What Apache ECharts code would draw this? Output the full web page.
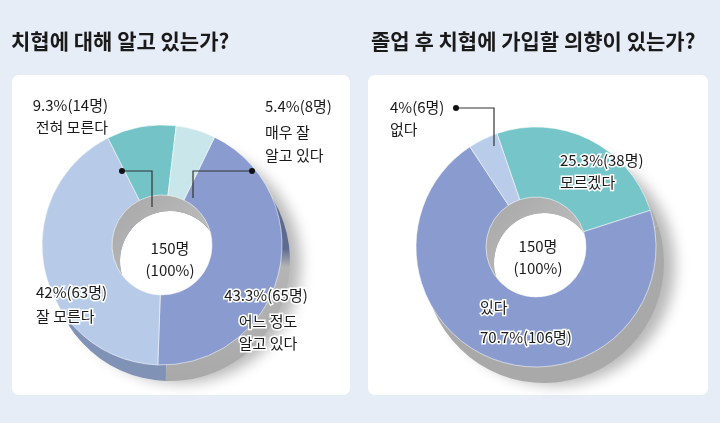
<!DOCTYPE html>
<html>
<head>
<meta charset="utf-8">
<script src="https://cdn.jsdelivr.net/npm/echarts@6/dist/echarts.min.js"></script>
<style>
  html, body { margin: 0; padding: 0; background: #e7edf7; }
  .panel { position: absolute; background: #fff; border-radius: 7px; top: 75px; height: 320px; }
  #main { position: absolute; left: 0; top: 0; width: 720px; height: 423px; }
</style>
</head>
<body>
<div class="panel" style="left:12px;width:338px"></div>
<div class="panel" style="left:368px;width:340px"></div>
<div id="main"></div>
<script>
// 왼쪽: 치협에 대해 알고 있는가?
const leftTitle = '치협에 대해 알고 있는가?'
const leftNames = ['어느 정도\n알고 있다', '잘 모른다', '전혀 모른다', '매우 잘\n알고 있다']
const leftCounts = [65, 63, 14, 8]
const leftPcts = ['43.3', '42', '9.3', '5.4']

// 오른쪽: 졸업 후 치협에 가입할 의향이 있는가?
const rightTitle = '졸업 후 치협에 가입할 의향이 있는가?'
const rightNames = ['모르겠다', '있다', '없다']
const rightCounts = [38, 106, 6]
const rightPcts = ['25.3', '70.7', '4']

const totalText = ['150명', '(100%)']

const FONT = '"Noto Sans CJK KR", "Noto Sans", sans-serif'
const leftColors = ['#8a9ccf', '#b7cbe9', '#73c3c7', '#c9e7ea']
const rightColors = ['#75c5c9', '#8a9ccf', '#b9cdeb']

const navyGray = new echarts.graphic.LinearGradient(0, 0, 0, 1, [
  { offset: 0, color: '#5d6a92' },
  { offset: 0.42, color: '#5d6a92' },
  { offset: 0.5, color: '#b5b5b5' },
  { offset: 1, color: '#a9a9a9' }
])
const leftSide = [navyGray, '#8192b7', '#8a8a8a', '#8a8a8a']
const rightSide = ['#acacac', '#a9a9a9', '#acacac']

function pieData (names, counts, colors) {
  return names.map((n, i) => ({ name: n, value: counts[i], itemStyle: { color: colors[i] } }))
}

// 도넛 한 개 = 그림자 + 옆면 + 안쪽 벽 + 윗면
function donut (center, startAngle, names, counts, topColors, sideColors) {
  const off = [center[0] + 8, center[1] + 16]
  const base = { type: 'pie', silent: true, label: { show: false }, labelLine: { show: false },
    emphasis: { disabled: true }, animation: false, startAngle: startAngle, clockwise: true }
  return [
    Object.assign({}, base, { center: off, radius: [0, 119], z: 0,
      data: [{ value: 1, itemStyle: { color: '#fff', shadowColor: 'rgba(0,0,0,0.28)',
        shadowBlur: 14, shadowOffsetX: 12, shadowOffsetY: 3 } }] }),
    Object.assign({}, base, { center: off, radius: [50, 120], z: 1,
      data: pieData(names, counts, sideColors) }),
    Object.assign({}, base, { center: off, radius: [50, 75], z: 2,
      data: [{ value: 1, itemStyle: { color: new echarts.graphic.LinearGradient(0, 0, 1, 1, [
        { offset: 0, color: '#a3a3a3' }, { offset: 1, color: '#d2d2d2' }]) } }] }),
    Object.assign({}, base, { center: center, radius: [50, 120], z: 3,
      itemStyle: { borderColor: 'rgba(255,255,255,0.55)', borderWidth: 1 },
      data: pieData(names, counts, topColors) })
  ]
}

function txt (text, x, y, align, halo) {
  return {
    type: 'text', z: 100, silent: true,
    style: {
      text: text, x: x, y: y, font: '15px ' + FONT, fill: '#1a1a1a',
      textAlign: align || 'left', textVerticalAlign: 'middle',
      align: align || 'left', verticalAlign: 'middle',
      stroke: halo ? '#fff' : null, lineWidth: halo ? 3 : 0, strokeFirst: true
    }
  }
}

function callout (points) {
  return [
    { type: 'polyline', z: 100, silent: true, shape: { points: points },
      style: { stroke: '#333', lineWidth: 1.2, fill: null } },
    { type: 'circle', z: 100, silent: true, shape: { cx: points[0][0], cy: points[0][1], r: 3 },
      style: { fill: '#111' } }
  ]
}

const L = (i) => leftPcts[i] + '%(' + leftCounts[i] + '명)'
const R = (i) => rightPcts[i] + '%(' + rightCounts[i] + '명)'
const lines = (s) => s.split('\n')

const graphics = [
  // 왼쪽 라벨
  txt(L(2), 108, 105, 'right'),
  txt(lines(leftNames[2])[0], 108, 127, 'right'),
  txt(L(3), 265, 106),
  txt(lines(leftNames[3])[0], 265, 132),
  txt(lines(leftNames[3])[1], 265, 155),
  txt(L(1), 36, 292, 'left', true),
  txt(lines(leftNames[1])[0], 36, 316, 'left', true),
  txt(L(0), 266, 295, 'center', true),
  txt(lines(leftNames[0])[0], 268, 321, 'center', true),
  txt(lines(leftNames[0])[1], 268, 343, 'center', true),
  txt(totalText[0], 170, 248, 'center'),
  txt(totalText[1], 170, 270, 'center'),
  ...callout([[122, 171], [152, 171], [152, 207]]),
  ...callout([[252, 171], [193, 171], [193, 198]]),
  // 오른쪽 라벨
  txt(R(2), 390, 107),
  txt(rightNames[2], 390, 129),
  txt(R(0), 560, 160, 'left', true),
  txt(rightNames[0], 560, 182, 'left', true),
  txt(rightNames[1], 480, 307, 'left', true),
  txt(R(1), 480, 337, 'left', true),
  txt(totalText[0], 538, 246, 'center'),
  txt(totalText[1], 538, 268, 'center'),
  ...callout([[456, 108], [494, 108], [494, 146]])
]

const chart = echarts.init(document.getElementById('main'), null, { renderer: 'canvas' })
chart.setOption({
  backgroundColor: 'transparent',
  animation: false,
  title: [
    { text: leftTitle, left: 6, top: 26,
      textStyle: { fontFamily: FONT, fontSize: 21, fontWeight: 'bold', color: '#1a1a1a' } },
    { text: rightTitle, left: 366, top: 26,
      textStyle: { fontFamily: FONT, fontSize: 21, fontWeight: 'bold', color: '#1a1a1a' } }
  ],
  series: [
    ...donut([162, 245], 64, leftNames, leftCounts, leftColors, leftSide),
    ...donut([536, 247], 109, rightNames, rightCounts, rightColors, rightSide)
  ],
  graphic: { elements: graphics }
})
</script>
</body>
</html>
